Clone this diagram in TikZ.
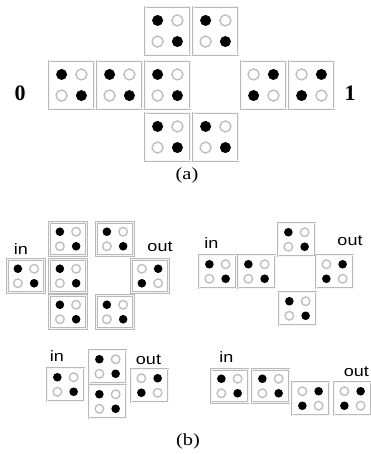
\documentclass[tikz,border=0pt]{standalone}
\usepackage{fontspec}
\setmainfont{Liberation Serif}
\newfontfamily\capfont[FakeStretch=1.2]{Liberation Serif}
\newfontfamily\iofont[FakeStretch=1.2]{Liberation Sans}
\usetikzlibrary{positioning, calc}

\tikzset{
  cellA/.style={rectangle, draw=gray!55, double=gray!8, double distance=1pt, line width=0.8pt,
                minimum width=45pt, minimum height=48pt, inner sep=0pt, outer sep=0pt},
  cellB/.style={cellA, minimum width=37pt, minimum height=33pt},
  pipon/.style={fill=black},
  pipoff/.style={draw=gray!50, line width=1.4pt, fill=white},
  digitlabel/.style={font=\bfseries\fontsize{22}{22}\selectfont, inner sep=0pt},
  iolabel/.style={font=\iofont\fontsize{15}{15}\selectfont, inner sep=0pt},
  caption/.style={font=\capfont\fontsize{17}{17}\selectfont, inner sep=0pt}
}

% black dots top-left and bottom-right
\newcommand{\pipsd}[2]{%
  \fill[pipon] ($(#1.north west)!0.28!(#1.south east)$) circle (#2);
  \fill[pipon] ($(#1.north west)!0.72!(#1.south east)$) circle (#2);
  \draw[pipoff] ($(#1.north east)!0.28!(#1.south west)$) circle (#2);
  \draw[pipoff] ($(#1.north east)!0.72!(#1.south west)$) circle (#2);
}
% black dots top-right and bottom-left
\newcommand{\pipsa}[2]{%
  \draw[pipoff] ($(#1.north west)!0.28!(#1.south east)$) circle (#2);
  \draw[pipoff] ($(#1.north west)!0.72!(#1.south east)$) circle (#2);
  \fill[pipon] ($(#1.north east)!0.28!(#1.south west)$) circle (#2);
  \fill[pipon] ($(#1.north east)!0.72!(#1.south west)$) circle (#2);
}

\begin{document}
\begin{tikzpicture}[x=1pt, y=-1pt]
\useasboundingbox (0,0) rectangle (370,454);

% (a) cross of cells
\node[cellA] (amid3) at (167.5,85) {};
\node[cellA, left=3pt of amid3] (amid2) {};
\node[cellA, left=3pt of amid2] (amid1) {};
\node[cellA, right=51pt of amid3] (amid4) {};
\node[cellA, right=3pt of amid4] (amid5) {};
\node[cellA, above=6pt of amid3] (atop1) {};
\node[cellA, right=3pt of atop1] (atop2) {};
\node[cellA, below=4pt of amid3] (abot1) {};
\node[cellA, right=3pt of abot1] (abot2) {};
\node[digitlabel] (zero) at (20,93) {0};
\node[digitlabel] (one) at (350,93) {1};
\node[caption] (capa) at (187,175) {(a)};

\foreach \c in {atop1, atop2, amid1, amid2, amid3, abot1, abot2} {\pipsd{\c}{5.5pt}}
\foreach \c in {amid4, amid5} {\pipsa{\c}{5.5pt}}

% (b) top left
\node[cellB] (lin) at (26,276) {};
\node[cellB, right=5pt of lin] (lmid) {};
\node[cellB, above=4pt of lmid] (ltop1) {};
\node[cellB, right=10pt of ltop1] (ltop2) {};
\node[cellB, below=3pt of lmid] (lbot1) {};
\node[cellB, right=10pt of lbot1] (lbot2) {};
\node[cellB, right=45pt of lmid] (lout) {};
\node[iolabel] (linlabel) at (21,249) {in};
\node[iolabel] (loutlabel) at (160,247) {out};

% (b) top right
\node[cellB] (rin) at (217.5,271.5) {};
\node[cellB, right=2pt of rin] (rmid) {};
\node[cellB, above right=-1pt and 3pt of rmid] (rtop) {};
\node[cellB, below right=4pt and 4pt of rmid] (rbot) {};
\node[cellB, right=41pt of rmid] (rout) {};
\node[iolabel] (rinlabel) at (211.5,243.5) {in};
\node[iolabel] (routlabel) at (350,241) {out};

% (b) bottom left
\node[cellB] (sin) at (65.5,384.5) {};
\node[cellB, right=5pt of sin, yshift=18pt] (sup) {};
\node[cellB, below=2pt of sup] (sdn) {};
\node[cellB, right=5pt of sup, yshift=-19pt] (sout) {};
\node[iolabel] (sinlabel) at (57,356) {in};
\node[iolabel] (soutlabel) at (148.5,359.5) {out};

% (b) bottom right
\node[cellB] (cin) at (229.5,386) {};
\node[cellB, right=4pt of cin] (ctwo) {};
\node[cellB, right=3pt of ctwo, yshift=-12.5pt] (cthree) {};
\node[cellB, right=5pt of cthree] (cout) {};
\node[iolabel] (cinlabel) at (226.5,357) {in};
\node[iolabel, anchor=east] (coutlabel) at (369,372) {out};

\node[caption] (capb) at (188,441) {(b)};

\foreach \c in {lin, lmid, ltop1, ltop2, lbot1, lbot2, rin, rmid, rtop, rbot, sin, sup, sdn, cin, ctwo} {\pipsd{\c}{4.3pt}}
\foreach \c in {lout, rout, sout, cthree, cout} {\pipsa{\c}{4.3pt}}

\end{tikzpicture}
\end{document}
